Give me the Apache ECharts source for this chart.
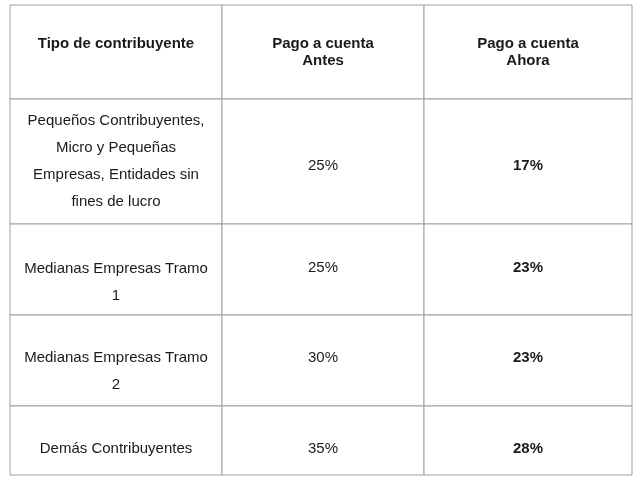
<!DOCTYPE html>
<html><head><meta charset="utf-8">
<script src="https://cdn.jsdelivr.net/npm/echarts@6/dist/echarts.min.js"></script>
<style>html,body{margin:0;padding:0;background:#fff}#c{width:640px;height:480px}</style>
</head><body><div id="c"></div>
<script>
const headers = ["Tipo de contribuyente", "Pago a cuenta\nAntes", "Pago a cuenta\nAhora"];
const categories = [
  "Pequeños Contribuyentes,\nMicro y Pequeñas\nEmpresas, Entidades sin\nfines de lucro",
  "Medianas Empresas Tramo\n1",
  "Medianas Empresas Tramo\n2",
  "Demás Contribuyentes"
];
const antes = ["25%", "25%", "30%", "35%"];
const ahora = ["17%", "23%", "23%", "28%"];

const colX = [10, 222, 424, 632];
const rowY = [5, 99, 224, 315, 406, 475];
const headerY = [44, 52.5, 52.5];
const catY = [161.5, 282.5, 371.5, 449];
const valY = [166, 268, 358, 449];
const font = "Liberation Sans, Arial, sans-serif";
const els = [];
function cell(r, c, text, bold, lh, y) {
  els.push({type:'rect', shape:{x:colX[c], y:rowY[r], width:colX[c+1]-colX[c], height:rowY[r+1]-rowY[r]},
    style:{fill:'#fff', stroke:'#a0a0a0', lineWidth:1}});
  els.push({type:'text', x:(colX[c]+colX[c+1])/2, y:y,
    style:{text:text, fill:'#1a1a1a', font:(bold?'bold ':'')+'15px '+font, align:'center', verticalAlign:'middle', lineHeight:lh}});
}
headers.forEach((h,i)=>cell(0,i,h,true,17,headerY[i]));
categories.forEach((cat,i)=>{
  cell(i+1,0,cat,false,27,catY[i]);
  cell(i+1,1,antes[i],false,27,valY[i]);
  cell(i+1,2,ahora[i],true,27,valY[i]);
});
const chart = echarts.init(document.getElementById('c'));
chart.setOption({animation:false, graphic:{elements:els}});
</script></body></html>
